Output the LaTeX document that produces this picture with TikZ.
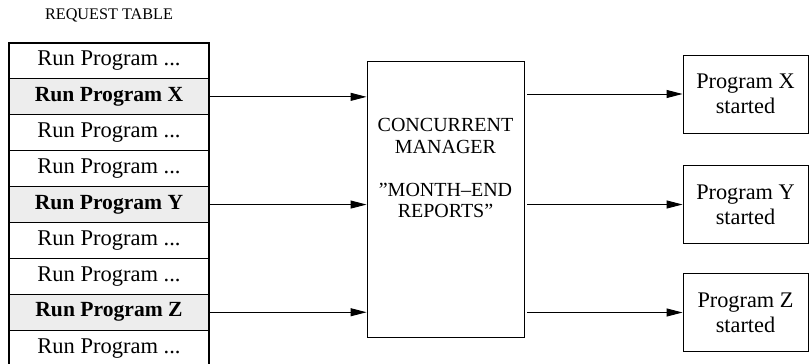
\documentclass[tikz,border=0pt]{standalone}
\usepackage{fontspec}
\setmainfont{Liberation Serif}
\usetikzlibrary{arrows.meta}
\newcommand\plainreq{Run Program ...}
\begin{document}
\begin{tikzpicture}[x=1pt,y=-1pt,
  rowbox/.style={draw,line width=1.1pt,minimum width=200pt,minimum height=35.9pt,
    inner sep=0pt,font=\fontsize{22.5}{24}\selectfont},
  hirow/.style={rowbox,fill=black!7,font=\fontsize{21.6}{24}\selectfont\bfseries},
  plainbox/.style={draw,line width=0.9pt,inner sep=0pt},
  outbox/.style={plainbox,minimum width=125pt,minimum height=78pt,align=center,
    font=\fontsize{22.3}{25}\selectfont},
  link/.style={line width=0.9pt,-{Triangle[length=16pt,width=8pt]}}]
\useasboundingbox (0,0) rectangle (809,364);

% request table title
\node[font=\fontsize{16.2}{18}\selectfont] (title) at (109,15) {REQUEST TABLE};

% request table rows
\foreach \k/\txt/\sty in {0/\plainreq/rowbox,1/Run Program X/hirow,
    2/\plainreq/rowbox,3/\plainreq/rowbox,4/Run Program Y/hirow,
    5/\plainreq/rowbox,6/\plainreq/rowbox,7/Run Program Z/hirow,
    8/\plainreq/rowbox}
  \node[\sty] (r\k) at (109,{43+35.9*(\k+0.5)}) {\txt};

% concurrent manager
\node[plainbox,minimum width=157pt,minimum height=276pt] (mgr) at (445.5,199) {};
\node[align=center,font=\fontsize{20}{21.5}\selectfont] (mgrtext) at (445.5,168)
  {CONCURRENT\\MANAGER\\[21.5pt]”MONTH–END\\REPORTS”};

% started programs
\node[outbox] (px) at (745.5,94) {Program X\\started};
\node[outbox] (py) at (745.5,204.5) {Program Y\\started};
\node[outbox] (pz) at (745.5,312.5) {Program Z\\started};

% requests into the manager
\draw[link] (r1.east) -- (r1.east -| mgr.west);
\draw[link] (r4.east) -- (r4.east -| mgr.west);
\draw[link] (r7.east) -- (r7.east -| mgr.west);

% manager launches programs
\draw[link] ([xshift=3pt]px.west -| mgr.east) -- (px.west);
\draw[link] ([xshift=3pt]py.west -| mgr.east) -- (py.west);
\draw[link] ([xshift=3pt]pz.west -| mgr.east) -- (pz.west);
\end{tikzpicture}
\end{document}
